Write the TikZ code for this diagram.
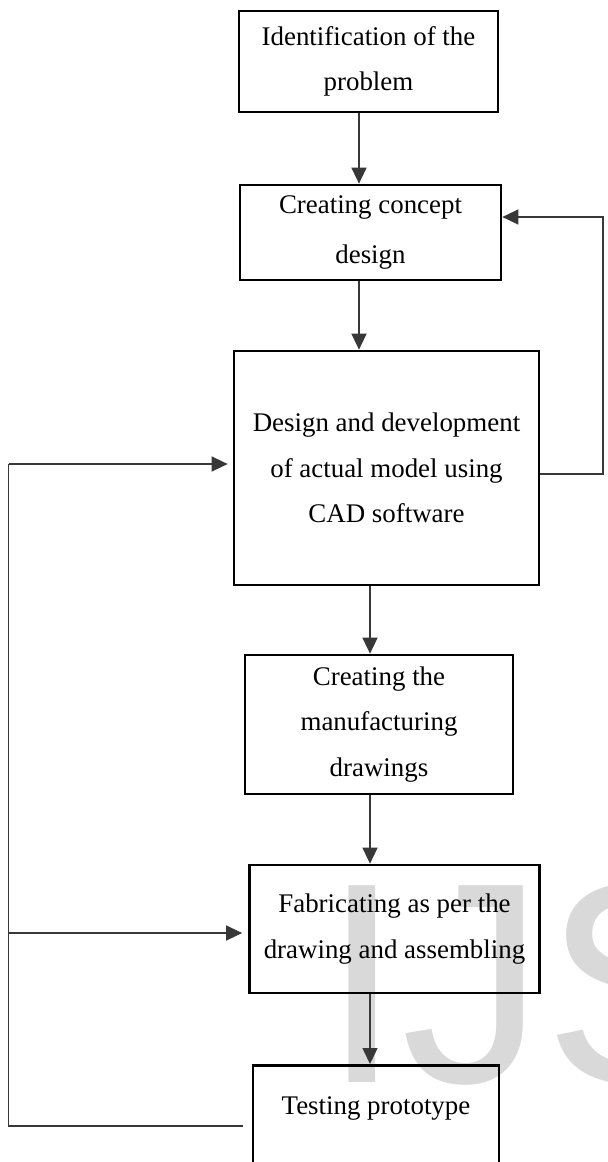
\documentclass[tikz,border=0pt]{standalone}
\usepackage{fontspec}
\setmainfont{Liberation Serif}
\newfontfamily\wmfont{Liberation Sans}
\usetikzlibrary{arrows.meta}
\begin{document}
\begin{tikzpicture}[x=0.5pt, y=-0.5pt,
  box/.style={draw=black, line width=1.35pt, align=center, inner sep=0pt,
    font=\fontsize{13.45}{22.75}\selectfont},
  txt/.style={inner sep=0pt, font=\fontsize{13.45}{22.75}\selectfont},
  conn/.style={draw=black!78, line width=0.7pt},
  arr/.style={conn, -{Triangle[width=7.5pt,length=8pt]}},
]
\useasboundingbox (0,0) rectangle (608,1162);
\clip (0,0) rectangle (608,1162);
\fill[white] (0,0) rectangle (608,1162);
% watermark
\node[anchor=base west, inner sep=0pt, text=black!15,
  font=\wmfont\fontsize{143}{143}\selectfont] (wm) at (322,1082) {IJS};
% boxes
\node[box, minimum width=129.5pt, minimum height=50.5pt] (b1) at (368.5,61.5) {Identification of the\\problem};
\node[box, minimum width=130.5pt, minimum height=47.5pt] (b2) at (370.5,232.5) {Creating concept\\[2pt]design};
\node[box, minimum width=152.5pt, minimum height=117pt] (b3) at (386.5,468) {Design and development\\of actual model using\\CAD software};
\node[box, minimum width=134pt, minimum height=69.5pt] (b4) at (379,724.5) {Creating the\\manufacturing\\drawings};
\node[box, minimum width=145pt, minimum height=64pt] (b5) at (394.5,929) {Fabricating as per the\\drawing and assembling};
\node[box, minimum width=123pt, minimum height=65pt, anchor=north] (b6) at (376,1064) {};
\node[txt] (t6) at (376,1108) {Testing prototype};
% connectors
\coordinate (xA) at (359,0);
\coordinate (xB) at (370,0);
\draw[arr] (b1.south -| xA) -- (b2.north -| xA);
\draw[arr] (b2.south -| xA) -- (b3.north -| xA);
\draw[arr] (b3.south -| xB) -- (b4.north -| xB);
\draw[arr] (b4.south -| xB) -- (b5.north -| xB);
\draw[arr] (b5.south -| xB) -- (b6.north -| xB);
% right feedback
\coordinate (r1) at (603,474);
\coordinate (r2) at (603,217);
\draw[arr] (b3.east |- r1) -- (r1) -- (r2) -- (b2.east |- r2);
% left feedback
\coordinate (t0) at (243,1126);
\coordinate (l1) at (8.5,1126);
\coordinate (l2) at (8.5,933);
\coordinate (l3) at (8.5,464);
\draw[conn] (t0) -- (l1) -- (l3);
\draw[arr, shorten >=2.5pt] (l3) -- (b3.west |- l3);
\draw[arr, shorten >=3pt] (l2) -- (b5.west |- l2);
\end{tikzpicture}
\end{document}
